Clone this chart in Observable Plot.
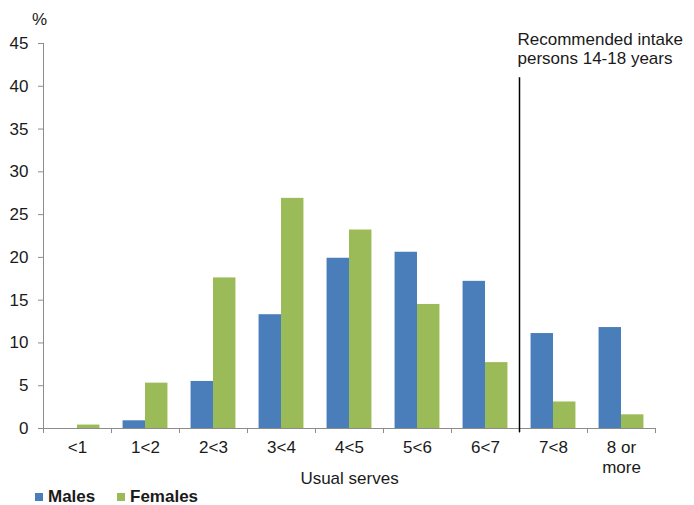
<!DOCTYPE html>
<html>
<head>
<meta charset="utf-8">
<script src="https://cdn.jsdelivr.net/npm/d3@7"></script>
<script src="https://cdn.jsdelivr.net/npm/@observablehq/plot@0.6"></script>
<style>
  html, body { margin: 0; padding: 0; background: #fff; }
  body { width: 694px; height: 505px; overflow: hidden; position: relative; font-family: "Liberation Sans", Arial, sans-serif; }
  #legend { position: absolute; left: 0; top: 487px; width: 694px; height: 20px; font-size: 17px; font-weight: bold; color: #1a1a1a; }
  .item { position: absolute; top: 0; line-height: 20px; }
  .sw { display: inline-block; width: 8px; height: 8px; margin-right: 5px; vertical-align: 1px; }
</style>
</head>
<body>
<div id="chart"></div>
<div id="legend"></div>
<script>
// ---- data ----
const categories = ["<1", "1<2", "2<3", "3<4", "4<5", "5<6", "6<7", "7<8", "8 or\nmore"];
const males   = [0, 0.9, 5.5, 13.3, 19.9, 20.6, 17.2, 11.1, 11.8];
const females = [0.4, 5.3, 17.6, 26.9, 23.2, 14.5, 7.7, 3.1, 1.6];
const seriesNames = ["Males", "Females"];
const seriesColors = ["#4A7EBB", "#9BBB59"];
const yTicks = [0, 5, 10, 15, 20, 25, 30, 35, 40, 45];
const annotationLines = "Recommended intake\npersons 14-18 years";
const recommendedAt = 7;   // boundary between "6<7" and "7<8"
const recommendedTop = 41; // top of the reference line, in %
const xTitle = "Usual serves";
const yUnit = "%";

// ---- build table ----
const rows = [];
categories.forEach((c, i) => {
  rows.push({i, cat: c, series: "Males", value: males[i]});
  rows.push({i, cat: c, series: "Females", value: females[i]});
});
const groupPad = 0.17, barW = 0.33;
const x1 = d => d.i + groupPad + (d.series === "Males" ? 0 : barW);
const x2 = d => x1(d) + barW;

const font = '"Liberation Sans", Arial, sans-serif';
const ink = "#1a1a1a";

const chart = Plot.plot({
  width: 694,
  height: 505,
  marginLeft: 43,
  marginRight: 39,
  marginTop: 43,
  marginBottom: 77,
  style: {fontFamily: font, fontSize: "17px", color: ink, background: "#fff"},
  x: {domain: [0, categories.length], axis: null},
  y: {domain: [0, 45], axis: null},
  color: {domain: seriesNames, range: seriesColors},
  marks: [
    Plot.rectY(rows.filter(d => d.value > 0), {x1, x2, y1: 0, y2: "value", fill: "series"}),
    Plot.ruleX([0], {stroke: "#8c8c8c"}),
    Plot.ruleY([0], {stroke: "#8c8c8c"}),
    Plot.axisY({ticks: yTicks, tickSize: 5, tickPadding: 10, label: null, stroke: "#8c8c8c", fill: ink}),
    Plot.axisX({ticks: d3.range(categories.length + 1), tickSize: 5, tickFormat: () => "", label: null, stroke: "#8c8c8c"}),
    Plot.axisX({ticks: categories.map((c, i) => i + 0.5), tickSize: 0, tickPadding: 10, lineHeight: 1.18,
      tickFormat: d => categories[Math.floor(d)], label: null, fill: ink}),
    Plot.text([xTitle], {frameAnchor: "bottom", dy: 50, lineAnchor: "middle", textAnchor: "middle", fill: ink}),
    Plot.text([yUnit], {frameAnchor: "top-left", dx: -4, dy: -24, lineAnchor: "middle", textAnchor: "middle", fill: ink}),
    Plot.ruleX([recommendedAt], {y1: recommendedTop, y2: 0, insetBottom: -4, stroke: "#000", strokeWidth: 1.5}),
    Plot.text([annotationLines], {x: recommendedAt, y: 45, dx: -2, dy: 5, textAnchor: "start", lineAnchor: "middle", lineHeight: 1.12, fill: ink})
  ]
});
document.getElementById("chart").appendChild(chart);

// ---- legend ----
const legend = document.getElementById("legend");
const legendLeft = [35, 117];
seriesNames.forEach((s, k) => {
  const it = document.createElement("span");
  it.className = "item";
  it.style.left = legendLeft[k] + "px";
  it.innerHTML = `<span class="sw" style="background:${seriesColors[k]}"></span>${s}`;
  legend.appendChild(it);
});
</script>
</body>
</html>
